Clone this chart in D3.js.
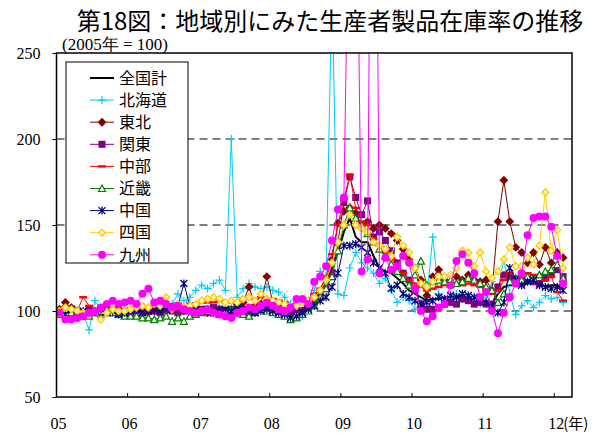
<!DOCTYPE html>
<html>
<head>
<meta charset="utf-8">
<script src="https://cdn.jsdelivr.net/npm/d3@7"></script>
<style>
  body { margin: 0; background: #fff; }
  svg { display: block; }
  .serif { font-family: "Liberation Serif", "DejaVu Serif", serif; }
  .jp { font-family: "Noto Sans CJK JP", sans-serif; }
</style>
</head>
<body>
<div id="chart"></div>
<script>
"use strict";

// Monthly index, 2005=100, Jan 2005 .. Feb 2012
const yearLabels = ["05", "06", "07", "08", "09", "10", "11", "12"];
const nCategories = 87;
const yTicks = [50, 100, 150, 200, 250];
const gridValues = [100, 150, 200];

const seriesNames = ["全国計", "北海道", "東北", "関東", "中部", "近畿", "中国", "四国", "九州"];

const national = [99,100,101,100,100,101,100,99,100,101,100,100,
  100,101,100,101,100,101,102,101,101,101,102,101,
  101,101,102,102,101,102,102,102,101,102,102,101,
  103,102,101,100,100,101,104,108,112,118,125,134,
  146,154,143,140,140,132,125,123,122,119,116,112,
  110,108,106,107,107,108,108,108,108,107,106,105,
  105,104,110,114,115,115,115,116,117,116,114,115,
  115,113];

const hokkaido = [99,100,102,100,98,89,106,101,100,99,101,100,
  99,100,101,99,102,101,103,104,110,106,108,112,
  115,113,116,118,112,200,108,113,116,114,113,114,
  112,111,108,104,99,97,103,112,123,120,290,110,
  109,125,134,128,125,122,116,119,112,105,108,106,
  101,105,108,143,110,106,108,110,107,108,106,104,
  108,117,112,130,110,98,103,106,102,105,109,107,
  108,105];

const tohoku = [101,105,102,100,99,101,100,98,99,100,101,100,
  99,100,101,99,100,101,100,102,101,100,101,99,
  100,99,100,101,98,97,99,105,114,103,104,120,
  105,102,100,99,101,100,103,106,112,118,130,151,
  158,160,157,150,152,148,150,148,145,141,136,130,
  125,118,109,120,124,118,116,120,118,121,118,117,
  118,112,152,176,152,137,134,128,134,127,137,128,
  134,131];

const kanto = [99,101,100,99,98,100,99,98,100,99,100,98,
  99,100,99,101,100,99,101,100,99,100,101,100,
  101,100,102,101,100,101,102,101,100,101,103,102,
  103,102,100,99,101,100,102,105,108,113,122,140,
  163,178,166,156,164,143,146,141,135,128,122,118,
  112,104,101,101,102,104,105,104,107,106,104,105,
  104,104,114,121,120,118,116,118,117,116,119,121,
  124,120];

const chubu = [100,101,102,100,108,103,101,100,101,102,101,100,
  101,102,101,100,102,101,103,104,103,102,103,104,
  105,105,105,106,105,105,105,107,107,107,108,107,
  107,106,105,103,104,106,107,110,113,120,133,150,
  165,179,160,152,150,142,138,134,130,126,122,118,
  116,114,112,113,114,115,114,116,115,116,115,114,
  113,110,112,118,122,120,119,122,121,120,118,120,
  111,106];

const kinki = [98,101,99,100,98,97,99,100,101,99,98,97,
  97,97,96,96,95,96,97,94,96,94,97,98,
  99,100,99,98,100,101,99,98,97,99,101,100,
  99,98,97,95,96,98,100,103,108,113,120,135,
  150,160,154,150,145,140,136,132,127,123,119,115,
  121,129,115,117,118,117,118,116,117,119,118,116,
  114,112,105,110,117,119,118,120,119,121,123,124,
  127,119];

const chugoku = [100,98,101,99,100,99,100,101,99,100,98,99,
  100,101,99,100,101,100,102,101,103,116,103,101,
  100,101,99,100,101,100,102,101,100,99,100,101,
  100,99,98,96,97,99,101,103,106,108,114,122,
  138,138,139,137,134,128,125,122,113,115,110,108,
  106,104,105,106,108,107,109,108,110,109,108,107,
  105,103,99,105,125,118,115,117,118,115,114,113,
  114,112];

const shikoku = [100,102,101,100,99,98,100,95,99,101,100,100,
  101,102,103,102,104,103,108,101,104,102,103,104,
  106,107,108,107,105,106,105,107,108,106,110,107,
  106,105,104,102,103,105,106,108,112,118,128,140,
  150,156,150,148,146,140,138,136,132,143,138,134,
  125,116,114,117,120,120,121,125,135,134,126,134,
  123,119,123,130,137,126,126,131,127,138,169,135,
  147,125];

const kyushu = [99,95,95,96,97,99,100,102,104,106,104,105,
  106,104,110,113,105,106,104,102,103,101,100,99,
  100,101,99,98,97,96,99,100,102,101,103,105,
  103,101,100,102,107,107,104,117,120,126,141,159,
  166,375,400,123,130,600,122,131,124,126,132,128,
  113,100,94,97,102,104,115,129,133,128,122,108,
  111,100,87,99,108,116,122,144,154,155,155,149,
  132,116];

const seriesValues = [national, hokkaido, tohoku, kanto, chubu, kinki, chugoku, shikoku, kyushu];

// styles per series
const styles = [
  { color: "#000000", width: 2, marker: "none" },
  { color: "#00CCFF", width: 1, marker: "plus" },
  { color: "#800000", width: 1, marker: "diamond" },
  { color: "#800080", width: 1, marker: "square" },
  { color: "#FF0000", width: 1, marker: "dash" },
  { color: "#008000", width: 1, marker: "triangle" },
  { color: "#000080", width: 1, marker: "star" },
  { color: "#FFCC00", width: 1, marker: "odiamond" },
  { color: "#FF00FF", width: 1, marker: "circle" }
];

const W = 605, H = 436;
const plot = { left: 56.5, right: 572, top: 53, bottom: 397 };

const svg = d3.select("#chart").append("svg")
  .attr("width", W)
  .attr("height", H);

const x = d3.scaleLinear().domain([0, nCategories]).range([plot.left, plot.right]);
const y = d3.scaleLinear().domain([50, 250]).range([plot.bottom, plot.top]);

// Title
svg.append("text")
  .attr("class", "jp")
  .attr("x", 330)
  .attr("y", 30)
  .attr("text-anchor", "middle")
  .attr("font-size", 24)
  .text("第18図：地域別にみた生産者製品在庫率の推移");

svg.append("text")
  .attr("class", "serif")
  .attr("x", 62)
  .attr("y", 50)
  .attr("font-size", 17)
  .text("(2005年 = 100)");

// grid lines
svg.append("g").selectAll("line")
  .data(gridValues)
  .enter().append("line")
  .attr("x1", plot.left).attr("x2", plot.right)
  .attr("y1", d => y(d)).attr("y2", d => y(d))
  .attr("stroke", "#000")
  .attr("stroke-width", 1)
  .attr("stroke-dasharray", "8,5");

// y axis
const yAxis = d3.axisLeft(y).tickValues(yTicks).tickSize(4).tickPadding(12);
const gy = svg.append("g")
  .attr("transform", "translate(" + plot.left + ",0)")
  .call(yAxis);
gy.select(".domain").remove();
gy.selectAll("text").attr("class", "serif").attr("font-size", 16).attr("fill", "#000");
gy.selectAll("line").attr("stroke", "#000");

// x axis ticks (inward)
const yearTicks = d3.range(1, yearLabels.length).map(k => k * 12);
svg.append("g").selectAll("line")
  .data(yearTicks)
  .enter().append("line")
  .attr("x1", d => x(d)).attr("x2", d => x(d))
  .attr("y1", plot.bottom).attr("y2", plot.bottom - 4)
  .attr("stroke", "#000");

svg.append("g").selectAll("text")
  .data(yearLabels)
  .enter().append("text")
  .attr("class", "serif")
  .attr("x", (d, k) => x(k * 12) + 2)
  .attr("y", 429)
  .attr("text-anchor", "middle")
  .attr("font-size", 16)
  .text(d => d);

svg.append("text")
  .attr("class", "jp")
  .attr("x", x(84) + 9)
  .attr("y", 429)
  .attr("font-size", 15)
  .text("(年)");

// clip
svg.append("clipPath").attr("id", "clip")
  .append("rect")
  .attr("x", plot.left).attr("y", plot.top)
  .attr("width", plot.right - plot.left).attr("height", plot.bottom - plot.top);

const line = d3.line()
  .x((d, i) => x(i + 0.5))
  .y(d => y(d));

function drawMarker(g, type, color, cx, cy) {
  if (type === "plus") {
    g.append("path")
      .attr("d", "M" + (cx - 4) + "," + cy + "H" + (cx + 4) + "M" + cx + "," + (cy - 4) + "V" + (cy + 4))
      .attr("stroke", color).attr("stroke-width", 1.2).attr("fill", "none");
  } else if (type === "diamond") {
    g.append("path")
      .attr("d", d3.symbol().type(d3.symbolDiamond2).size(50)())
      .attr("transform", "translate(" + cx + "," + cy + ")")
      .attr("fill", color);
  } else if (type === "odiamond") {
    g.append("path")
      .attr("d", d3.symbol().type(d3.symbolDiamond2).size(32)())
      .attr("transform", "translate(" + cx + "," + cy + ")")
      .attr("fill", "#FFF2B0").attr("stroke", color).attr("stroke-width", 1.3);
  } else if (type === "square") {
    g.append("rect")
      .attr("x", cx - 3.5).attr("y", cy - 3.5).attr("width", 7).attr("height", 7)
      .attr("fill", color);
  } else if (type === "dash") {
    g.append("rect")
      .attr("x", cx - 4).attr("y", cy - 1.2).attr("width", 8).attr("height", 2.4)
      .attr("fill", color);
  } else if (type === "triangle") {
    g.append("path")
      .attr("d", "M" + cx + "," + (cy - 3.5) + "L" + (cx + 3.5) + "," + (cy + 3) + "L" + (cx - 3.5) + "," + (cy + 3) + "Z")
      .attr("fill", "#fff").attr("stroke", color).attr("stroke-width", 1.2);
  } else if (type === "star") {
    g.append("path")
      .attr("d", "M" + (cx - 3.5) + "," + (cy - 3.5) + "L" + (cx + 3.5) + "," + (cy + 3.5) +
        "M" + (cx + 3.5) + "," + (cy - 3.5) + "L" + (cx - 3.5) + "," + (cy + 3.5) +
        "M" + cx + "," + (cy - 4) + "V" + (cy + 4))
      .attr("stroke", color).attr("stroke-width", 1.3).attr("fill", "none");
  } else if (type === "circle") {
    g.append("circle")
      .attr("cx", cx).attr("cy", cy).attr("r", 4)
      .attr("fill", color);
  }
}

// series
const plotG = svg.append("g").attr("clip-path", "url(#clip)");
seriesValues.forEach(function (vals, s) {
  const st = styles[s];
  const g = plotG.append("g");
  g.append("path")
    .datum(vals)
    .attr("d", line)
    .attr("fill", "none")
    .attr("stroke", st.color)
    .attr("stroke-width", st.width);
  if (st.marker !== "none") {
    vals.forEach(function (v, i) {
      drawMarker(g, st.marker, st.color, x(i + 0.5), y(v));
    });
  }
});

// plot border
svg.append("rect")
  .attr("x", plot.left).attr("y", plot.top)
  .attr("width", plot.right - plot.left).attr("height", plot.bottom - plot.top)
  .attr("fill", "none").attr("stroke", "#000").attr("stroke-width", 1.5);

// legend
const legend = svg.append("g");
legend.append("rect")
  .attr("x", 66).attr("y", 62).attr("width", 122).attr("height", 201)
  .attr("fill", "#fff").attr("stroke", "#000").attr("stroke-width", 1);

seriesNames.forEach(function (name, s) {
  const st = styles[s];
  const ly = 78 + s * 22.1;
  legend.append("line")
    .attr("x1", 90).attr("x2", 114).attr("y1", ly).attr("y2", ly)
    .attr("stroke", st.color).attr("stroke-width", st.width);
  drawMarker(legend, st.marker, st.color, 102, ly);
  legend.append("text")
    .attr("class", "jp")
    .attr("x", 119)
    .attr("y", ly)
    .attr("dy", "0.36em")
    .attr("font-size", 16)
    .text(name);
});
</script>
</body>
</html>
